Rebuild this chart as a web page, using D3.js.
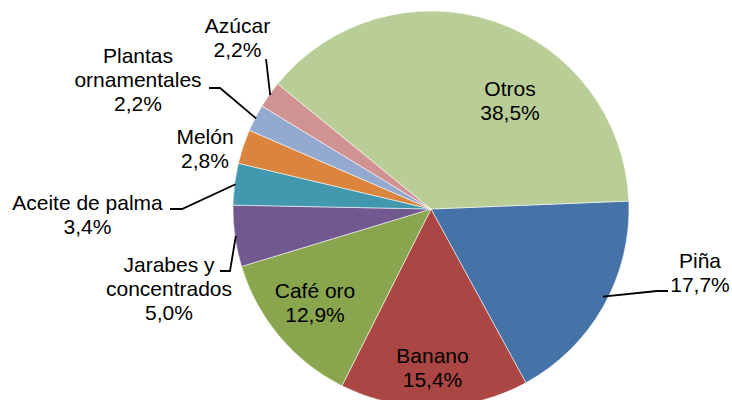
<!DOCTYPE html>
<html>
<head>
<meta charset="utf-8">
<script src="https://cdn.jsdelivr.net/npm/d3@7"></script>
<style>
  html, body { margin: 0; padding: 0; background: #fff; }
  svg { display: block; }
  text { font-family: "Liberation Sans", Arial, sans-serif; font-size: 21px; fill: #000; }
</style>
</head>
<body>
<svg id="chart" width="732" height="400"></svg>
<script>
// ---- Data ----
const categories = ["Piña", "Banano", "Café oro", "Jarabes y concentrados", "Aceite de palma", "Melón", "Plantas ornamentales", "Azúcar", "Otros"];
const values = [17.7, 15.4, 12.9, 5.0, 3.4, 2.8, 2.2, 2.2, 38.5];
const labelLines = [["Piña"], ["Banano"], ["Café oro"], ["Jarabes y", "concentrados"], ["Aceite de palma"], ["Melón"], ["Plantas", "ornamentales"], ["Azúcar"], ["Otros"]];
const colors = ["#4572A7", "#AA4643", "#89A54E", "#71588F", "#4198AF", "#DB843D", "#93A9CF", "#D19392", "#B9CD96"];

// ---- Layout ----
const width = 732, height = 400;
const cx = 431, cy = 209, radius = 198;
const startDeg = 87.7;
const lineH = 24;
// label text anchor (center x, first baseline y) and leader elbow points
const labelLayout = {
  "Piña":                   { x: 700,   y: 268, leader: [[668, 291], [657, 291]], angOff: -2.5, rf: 0.975 },
  "Banano":                 { x: 432.5, y: 363 },
  "Café oro":               { x: 315,   y: 298 },
  "Jarabes y concentrados": { x: 169,   y: 272, leader: [[220, 271], [230, 271]] },
  "Aceite de palma":        { x: 87.5,  y: 210, leader: [[170, 209], [182, 209]] },
  "Melón":                  { x: 205,   y: 144 },
  "Plantas ornamentales":   { x: 138,   y: 63,  leader: [[209, 88], [220, 88]] },
  "Azúcar":                 { x: 237.5, y: 33,  leader: [[266, 59]] },
  "Otros":                  { x: 510,   y: 96 }
};

const fmt = v => v.toFixed(1).replace(".", ",") + "%";

const svg = d3.select("#chart");
const g = svg.append("g").attr("transform", `translate(${cx},${cy})`);

const data = categories.map((c, i) => ({ cat: c, value: values[i], color: colors[i], lines: labelLines[i] }));

const start = startDeg * Math.PI / 180;
const pie = d3.pie().sort(null).value(d => d.value).startAngle(start).endAngle(start + 2 * Math.PI);
const arc = d3.arc().innerRadius(0).outerRadius(radius);
const arcs = pie(data);

g.selectAll("path.slice")
  .data(arcs)
  .join("path")
  .attr("class", "slice")
  .attr("d", arc)
  .attr("fill", d => d.data.color)
  .attr("stroke", "#ffffff")
  .attr("stroke-width", 0.7)
  .attr("stroke-opacity", 0.8);

// leader lines
arcs.forEach(a => {
  const L = labelLayout[a.data.cat];
  if (!L.leader) return;
  const mid = (a.startAngle + a.endAngle) / 2 + (L.angOff || 0) * Math.PI / 180;
  const r = radius * (L.rf || 0.995);
  const p = [cx + r * Math.sin(mid), cy - r * Math.cos(mid)];
  const pts = L.leader.concat([p]);
  svg.append("polyline")
    .attr("points", pts.map(q => q.join(",")).join(" "))
    .attr("fill", "none")
    .attr("stroke", "#000")
    .attr("stroke-width", 1.8);
});

// labels
arcs.forEach(a => {
  const L = labelLayout[a.data.cat];
  const lines = a.data.lines.concat([fmt(a.data.value)]);
  const t = svg.append("text").attr("text-anchor", "middle");
  lines.forEach((s, i) => {
    t.append("tspan").attr("x", L.x).attr("y", L.y + i * lineH).text(s);
  });
});
</script>
</body>
</html>
